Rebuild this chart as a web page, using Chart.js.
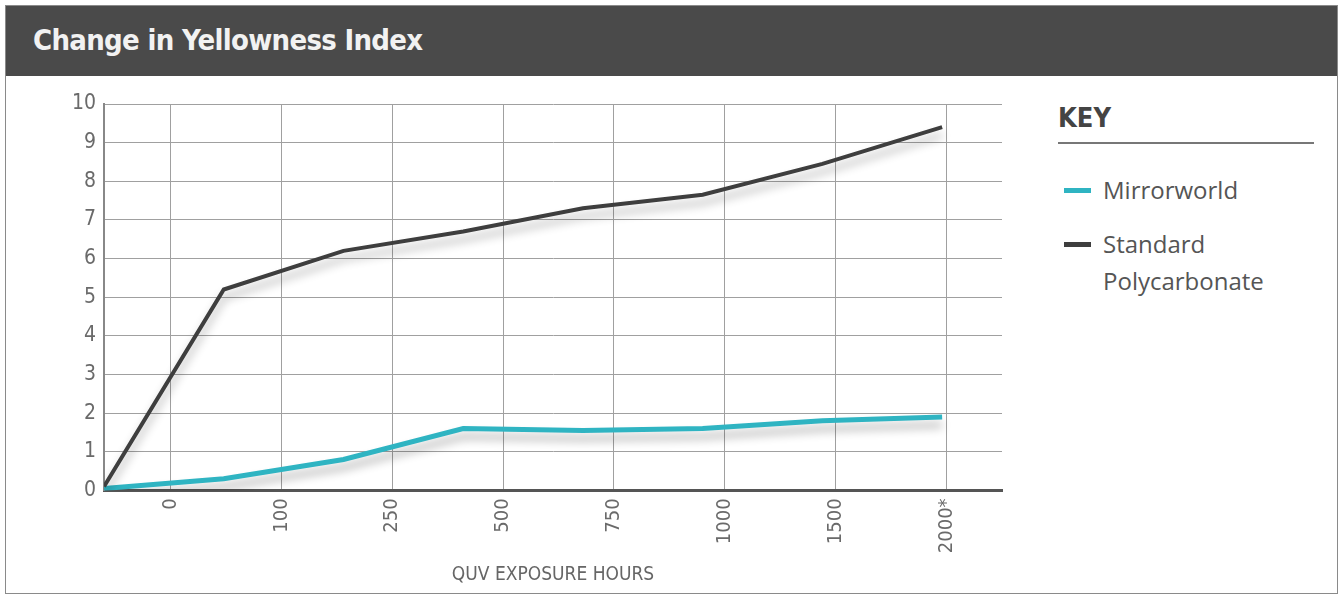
<!DOCTYPE html>
<html>
<head>
<meta charset="utf-8">
<script src="https://cdn.jsdelivr.net/npm/chart.js@4.4.1/dist/chart.umd.min.js"></script>
<style>
  html, body { margin: 0; padding: 0; background: #fff; }
  #frame { position: absolute; left: 5px; top: 5px; width: 1331px; height: 587px; border: 1px solid #8a8a8a; overflow: hidden; }
  #header { position: absolute; left: 0; top: 0; width: 100%; height: 70px; background: #4a4a4a; }
  #header h1 { position: absolute; left: 27px; top: 17px; margin: 0; font: bold 29px "DejaVu Sans Condensed", sans-serif; color: #f2f2f2; letter-spacing: -0.7px; }
  #chart { position: absolute; left: 1px; top: 71px; }
  #key { position: absolute; left: 1052px; top: 96px; width: 256px; font-family: "Open Sans", sans-serif; color: #555; }
  #key .title { font: bold 27px "DejaVu Sans Condensed", sans-serif; color: #444; padding-bottom: 9px; border-bottom: 2px solid #777; }
  #key .item { position: relative; padding-left: 45px; font-size: 24px; line-height: 37px; margin-top: 17px; }
  #key .item:nth-child(2) { margin-top: 27px; }
  #key .item .dash { position: absolute; left: 6px; top: 17px; width: 27px; height: 5px; }
</style>
</head>
<body>
<div id="frame">
  <div id="header"><h1>Change in Yellowness Index</h1></div>
  <canvas id="chart" width="1030" height="515"></canvas>
  <div id="key"><div class="title">KEY</div></div>
</div>
<script>
const hours = ['0', '100', '250', '500', '750', '1000', '1500', '2000*'];
const steps = [0, 1, 2, 3, 4, 5, 6, 7];
const mirrorworld = [0.05, 0.3, 0.8, 1.6, 1.55, 1.6, 1.8, 1.9];
const standardPc = [0.1, 5.2, 6.2, 6.7, 7.3, 7.65, 8.45, 9.4];
const seriesNames = ['Mirrorworld', 'Standard Polycarbonate'];
const seriesColors = ['#2fb4c2', '#3e3e3e'];

// legend drawn as html, same order as the reference key
const key = document.getElementById('key');
seriesNames.forEach((name, i) => {
    const item = document.createElement('div');
    item.className = 'item';
    item.innerHTML = '<span class="dash" style="background:' + seriesColors[i] + '"></span>' +
        (name === 'Standard Polycarbonate' ? 'Standard<br>Polycarbonate' : name);
    key.appendChild(item);
});

const lineShadow = {
    id: 'lineShadow',
    beforeDatasetDraw(chart) {
        const ctx = chart.ctx;
        ctx.save();
        ctx.shadowColor = 'rgba(0,0,0,0.3)';
        ctx.shadowBlur = 10;
        ctx.shadowOffsetY = 8;
    },
    afterDatasetDraw(chart) {
        chart.ctx.restore();
    }
};

const narrow = '"DejaVu Sans Condensed", sans-serif';

new Chart(document.getElementById('chart').getContext('2d'), {
    type: 'line',
    data: {
        datasets: [
            {
                label: seriesNames[1],
                data: steps.map((s, i) => ({ x: s, y: standardPc[i] })),
                borderColor: seriesColors[1],
                borderWidth: 4,
                pointRadius: 0,
                tension: 0
            },
            {
                label: seriesNames[0],
                data: steps.map((s, i) => ({ x: s, y: mirrorworld[i] })),
                borderColor: seriesColors[0],
                borderWidth: 5,
                pointRadius: 0,
                tension: 0
            }
        ]
    },
    options: {
        responsive: false,
        animation: false,
        layout: { padding: { left: 57, top: 27, right: 35, bottom: 6 } },
        plugins: { legend: { display: false }, tooltip: { enabled: false } },
        scales: {
            x: { type: 'linear', min: 0, max: 7.5, display: false },
            hrs: {
                type: 'linear',
                position: 'bottom',
                min: -0.6,
                max: 7.5,
                afterBuildTicks: (axis) => { axis.ticks = hours.map((h, i) => ({ value: i })); },
                ticks: {
                    callback: (v) => hours[v],
                    minRotation: 90,
                    maxRotation: 90,
                    autoSkip: false,
                    padding: 8,
                    color: '#6a6a6a',
                    font: { family: narrow, size: 20 }
                },
                grid: { color: '#a0a0a0', lineWidth: 1, drawTicks: false },
                border: { color: '#555', width: 3 },
                title: {
                    display: true,
                    text: 'QUV EXPOSURE HOURS',
                    color: '#666',
                    font: { family: narrow, size: 19 },
                    padding: { top: 2, bottom: 0 }
                }
            },
            y: {
                min: 0,
                max: 10,
                ticks: { stepSize: 1, padding: 8, color: '#6a6a6a', font: { family: narrow, size: 21 } },
                grid: { color: '#a0a0a0', lineWidth: 1, drawTicks: false },
                border: { color: '#888', width: 2 }
            }
        }
    },
    plugins: [lineShadow]
});
</script>
</body>
</html>
